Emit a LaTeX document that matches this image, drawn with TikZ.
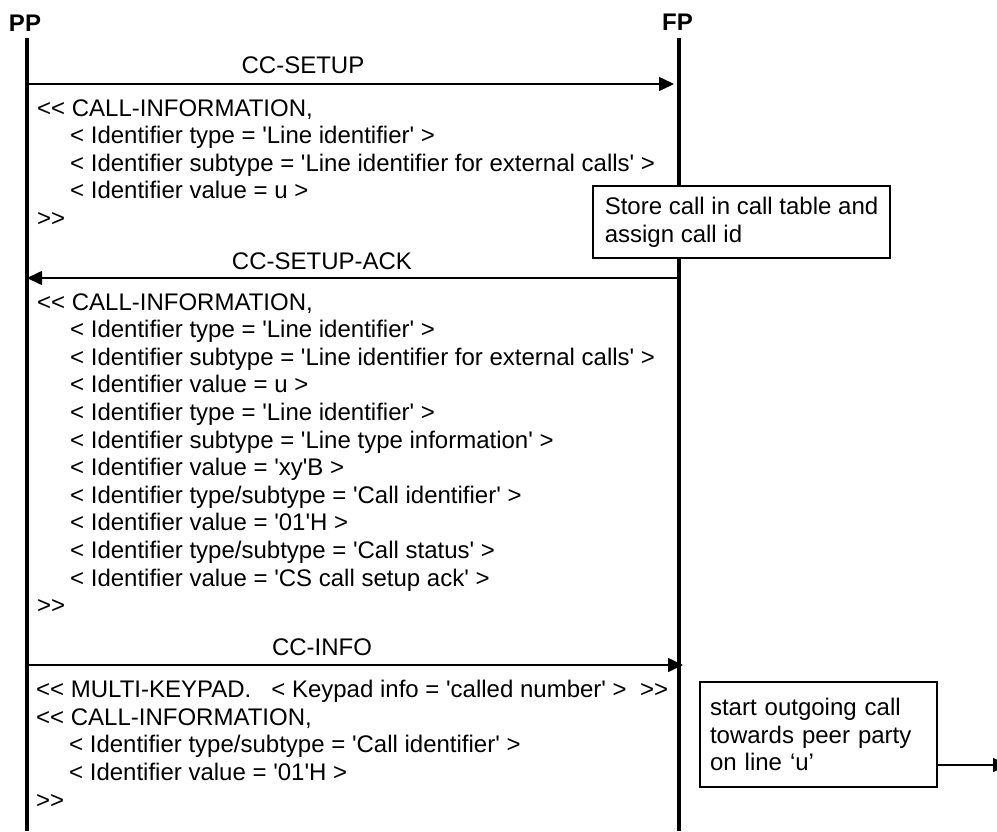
\documentclass[tikz,border=0pt]{standalone}
\usepackage{fontspec}
\setmainfont{Liberation Sans}[Ligatures=TeXOff]
\usetikzlibrary{arrows.meta}
\begin{document}
\begin{tikzpicture}[x=1pt,y=-1pt,
  life/.style={line width=3.5pt},
  msg/.style={line width=1.6pt,-{Triangle[length=15pt,width=14pt]}},
  lbl/.style={font=\fontsize{24}{27.6}\selectfont,inner sep=0pt},
  head/.style={font=\fontsize{24}{27.6}\selectfont\bfseries,inner sep=0pt},
  txt/.style={font=\fontsize{24}{27.6}\selectfont,align=left,inner sep=0pt,anchor=north west},
  boxt/.style={draw,line width=1.5pt,fill=white,font=\fontsize{24}{27.6}\selectfont,align=left,inner xsep=10pt,inner ysep=0pt}
]
\useasboundingbox (0,0) rectangle (997,831);
\newcommand{\ind}{\hspace*{33pt}}
% headers
\node[head] (pp) at (25,23.5) {PP};
\node[head] (fp) at (677.5,22) {FP};
\coordinate (pptop) at (27,38);
\coordinate (ppbot) at (27,831);
\coordinate (fptop) at (679,38);
\coordinate (fpbot) at (679,831);
\draw[life] (pptop) -- (ppbot);
\draw[life] (fptop) -- (fpbot);
% CC-SETUP
\coordinate (s1a) at (27,84);
\coordinate (s1b) at (674,84);
\draw[msg] (s1a) -- (s1b);
\node[lbl] (l1) at (303,65.5) {CC-SETUP};
\node[txt] (b1) at (37,99.2) {%
<< CALL-INFORMATION,\\
\ind< Identifier type = 'Line identifier' >\\
\ind< Identifier subtype = 'Line identifier for external calls' >\\
\ind< Identifier value = u >\\
>>};
% store box
\node[boxt,minimum width=297pt,minimum height=72pt] (store) at (741.5,222) {Store call in call table and\\assign call id};
% CC-SETUP-ACK
\coordinate (s2a) at (679,278);
\coordinate (s2b) at (27,278);
\draw[msg] (s2a) -- (s2b);
\node[lbl] (l2) at (322,261) {CC-SETUP-ACK};
\node[txt] (b2) at (37,293.2) {%
<< CALL-INFORMATION,\\
\ind< Identifier type = 'Line identifier' >\\
\ind< Identifier subtype = 'Line identifier for external calls' >\\
\ind< Identifier value = u >\\
\ind< Identifier type = 'Line identifier' >\\
\ind< Identifier subtype = 'Line type information' >\\
\ind< Identifier value = 'xy'B >\\
\ind< Identifier type/subtype = 'Call identifier' >\\
\ind< Identifier value = '01'H >\\
\ind< Identifier type/subtype = 'Call status' >\\
\ind< Identifier value = 'CS call setup ack' >\\
>>};
% CC-INFO
\coordinate (s3a) at (27,665);
\coordinate (s3b) at (683,665);
\draw[msg] (s3a) -- (s3b);
\node[lbl] (l3) at (322,647) {CC-INFO};
\node[txt] (b3) at (36,680) {%
<< MULTI-KEYPAD.\ \ \ < Keypad info = 'called number' >\ \ >>\\
<< CALL-INFORMATION,\\
\ind< Identifier type/subtype = 'Call identifier' >\\
\ind< Identifier value = '01'H >\\
>>};
% start box
\node[boxt,minimum width=237pt,minimum height=105pt,text width=217pt] (start) at (818.5,734.5) {start outgoing call\\towards peer party\\on line ‘u’};
\coordinate (out) at (1008,765);
\draw[msg] (start.east |- out) -- (out);
\end{tikzpicture}
\end{document}
